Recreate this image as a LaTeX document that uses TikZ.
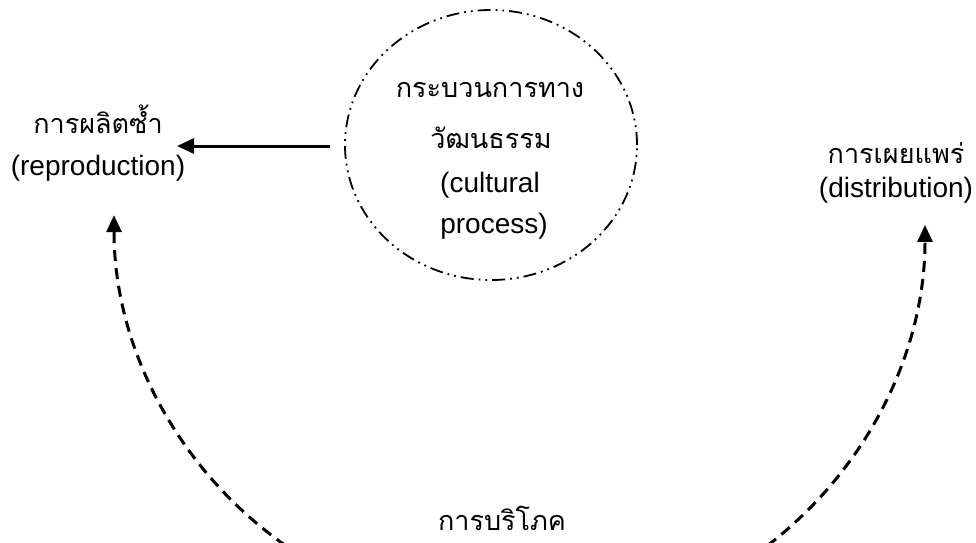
\documentclass[tikz,border=0pt]{standalone}
\usepackage{fontspec}
\setmainfont{Liberation Sans}
\newfontfamily\thai[Script=Thai]{Loma}
\usetikzlibrary{arrows.meta,shapes.geometric}
\begin{document}
\begin{tikzpicture}[x=1pt,y=-1pt,
  lat/.style={font=\fontsize{28}{34}\selectfont, inner sep=0pt, anchor=base},
  th/.style={font=\thai\fontsize{27}{32}\selectfont, inner sep=0pt, anchor=base},
  arr/.style={line width=3pt, -{Triangle[length=17pt,width=15pt]}},
  dsh/.style={arr, dash pattern=on 11pt off 7pt},
  cyc/.style={draw, ellipse, line width=1.8pt,
    dash pattern=on 13pt off 5pt on 1.8pt off 5pt on 1.8pt off 5pt,
    minimum width=292pt, minimum height=270pt, inner sep=0pt}]
\clip (0,0) rectangle (976,542);
\fill[white] (0,0) rectangle (976,542);
% central process
\node[cyc] (cp) at (491,145) {};
\node[th]  (cp1) at (490,97)  {กระบวนการทาง};
\node[th]  (cp2) at (491,148) {วัฒนธรรม};
\node[lat] (cp3) at (490,192) {(cultural};
\node[lat] (cp4) at (494,233) {process)};
% reproduction
\node[th]  (rep1) at (98,133) {การผลิตซ้ำ};
\node[lat] (rep2) at (98,175) {(reproduction)};
% distribution
\node[th]  (dis1) at (896,163) {การเผยแพร่};
\node[lat] (dis2) at (896,197) {(distribution)};
% consumption
\node[th]  (con) at (502,530) {การบริโภค};
% connectors
\coordinate (cpout) at (330,146);
\coordinate (repin) at (177,146);
\draw[arr] (cpout) -- (repin);
\coordinate (conL) at (316,565);
\coordinate (conR) at (722.5,575.7);
\draw[dsh] (conL) arc[start angle=120, end angle=180, radius=404];
\draw[dsh] (conR) arc[start angle=60, end angle=0, radius=405];
\end{tikzpicture}
\end{document}
